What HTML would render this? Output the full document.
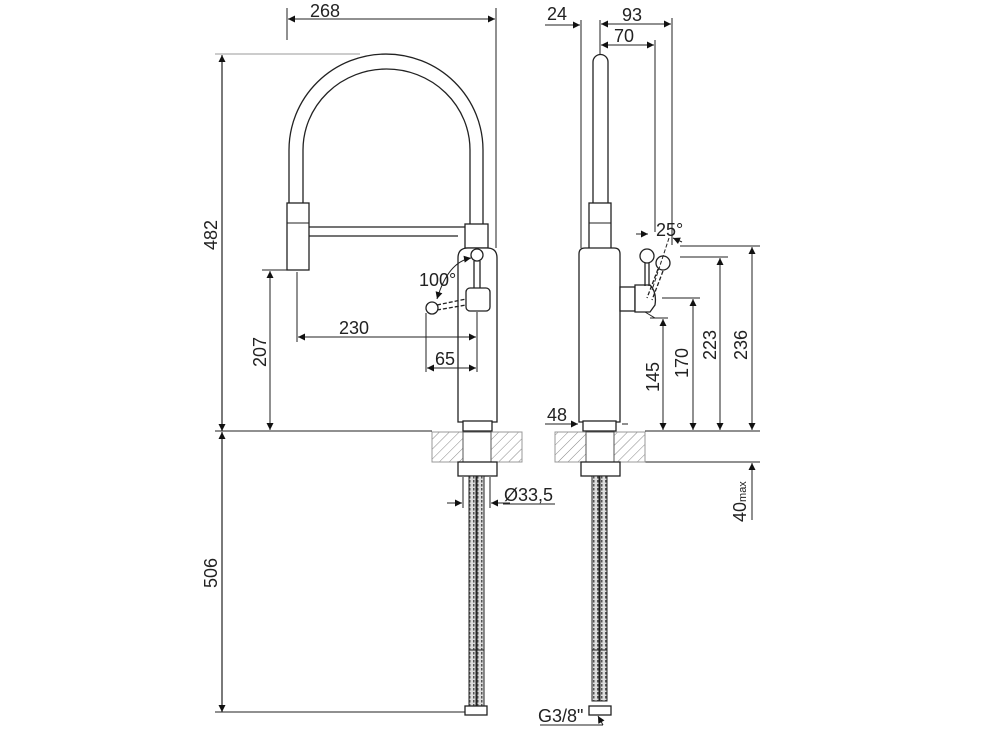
<!DOCTYPE html>
<html><head><meta charset="utf-8"><style>
html,body{margin:0;padding:0;background:#fff}
svg{display:block}
text{font-family:"Liberation Sans",Arial,sans-serif;fill:#222;font-size:18px}
</style></head><body>
<svg width="1000" height="748" viewBox="0 0 1000 748" xmlns="http://www.w3.org/2000/svg">
<defs>
<marker id="a" viewBox="0 0 10 10" refX="10" refY="5" markerWidth="9" markerHeight="7" orient="auto-start-reverse" markerUnits="userSpaceOnUse"><path d="M0,0 L10,5 L0,10 z" fill="#111"/></marker>
<pattern id="h" width="7" height="7" patternUnits="userSpaceOnUse" patternTransform="rotate(45)"><line x1="0" y1="0" x2="0" y2="7" stroke="#888" stroke-width="1"/></pattern>
<pattern id="hose" width="4" height="4" patternUnits="userSpaceOnUse"><rect width="4" height="4" fill="#ddd"/><rect x="1" y="0" width="1.5" height="2.5" fill="#555"/></pattern>
</defs>
<g fill="none" stroke="#222" stroke-width="1.3">
<line x1="287" y1="8" x2="287" y2="40" stroke-width="1"/>
<line x1="496" y1="8" x2="496" y2="248" stroke-width="1"/>
<line x1="288" y1="19" x2="495" y2="19" stroke-width="1" marker-start="url(#a)" marker-end="url(#a)"/>
<line x1="215" y1="54" x2="360" y2="54" stroke="#999" stroke-width="1"/>
<line x1="222" y1="55" x2="222" y2="431" stroke-width="1.2" marker-start="url(#a)" marker-end="url(#a)"/>
<line x1="222" y1="432" x2="222" y2="712" stroke-width="1.2" marker-start="url(#a)" marker-end="url(#a)"/>
<line x1="215" y1="431" x2="432" y2="431" stroke-width="1"/>
<line x1="215" y1="712" x2="470" y2="712" stroke-width="1"/>
<line x1="262" y1="270" x2="290" y2="270" stroke-width="1"/>
<line x1="270" y1="271" x2="270" y2="430" stroke-width="1" marker-start="url(#a)" marker-end="url(#a)"/>
<path d="M289,205 L289,150 A97,96 0 0 1 483,150 L483,226"/>
<path d="M303,205 L303,150 A83.5,81 0 0 1 470,150 L470,226"/>
<rect x="287" y="203" width="22" height="67" fill="#fff"/>
<line x1="287" y1="223" x2="309" y2="223" stroke-width="1"/>
<path d="M309,227 L465,227 M309,236 L458,236"/>
<rect x="465" y="224" width="23" height="24" fill="#fff"/>
<path d="M458,422 L458,258 Q458,248 468,248 L487,248 Q497,248 497,258 L497,422 Z" fill="#fff"/>
<rect x="463" y="421" width="29" height="10" fill="#fff"/>
<circle cx="477" cy="255" r="6" fill="#fff"/>
<line x1="474" y1="261" x2="474" y2="289"/><line x1="480" y1="261" x2="480" y2="289"/>
<rect x="466" y="288" width="24" height="23" rx="4" fill="#fff"/>
<line x1="437" y1="305" x2="466" y2="299" stroke-dasharray="4,2"/>
<line x1="437" y1="310" x2="466" y2="305" stroke-dasharray="4,2"/>
<circle cx="432" cy="308" r="6" fill="#fff"/>
<path d="M437,299 Q448,262 471,258" stroke-width="1" marker-start="url(#a)" marker-end="url(#a)"/>
<line x1="297" y1="272" x2="297" y2="342" stroke-width="1"/>
<line x1="477" y1="312" x2="477" y2="372" stroke-width="1"/>
<line x1="426" y1="313" x2="426" y2="372" stroke-width="1"/>
<line x1="298" y1="337" x2="476" y2="337" stroke-width="1" marker-start="url(#a)" marker-end="url(#a)"/>
<line x1="427" y1="368" x2="476" y2="368" stroke-width="1" marker-start="url(#a)" marker-end="url(#a)"/>
<rect x="432" y="432" width="90" height="30" fill="url(#h)" stroke="#999" stroke-width="1"/>
<rect x="463" y="432" width="28" height="30" fill="#fff" stroke="#555" stroke-width="1"/>
<rect x="458" y="462" width="39" height="14" fill="#fff"/>
<rect x="469" y="476" width="7" height="230" fill="url(#hose)" stroke-width="1"/>
<rect x="477" y="476" width="7" height="230" fill="url(#hose)" stroke-width="1"/>
<line x1="469" y1="650" x2="484" y2="650" stroke-width="1"/>
<rect x="465" y="706" width="22" height="9" fill="#fff"/>
<line x1="463" y1="477" x2="463" y2="508" stroke-width="1"/>
<line x1="490" y1="477" x2="490" y2="508" stroke-width="1"/>
<line x1="447" y1="503" x2="462" y2="503" stroke-width="1" marker-end="url(#a)"/>
<line x1="510" y1="503" x2="491" y2="503" stroke-width="1" marker-end="url(#a)"/>
<line x1="503" y1="504" x2="555" y2="504" stroke-width="1"/>
<line x1="581" y1="20" x2="581" y2="248" stroke-width="1"/>
<line x1="600" y1="20" x2="600" y2="55" stroke-width="1"/>
<line x1="672" y1="18" x2="672" y2="245" stroke-width="1"/>
<line x1="655" y1="40" x2="655" y2="232" stroke-width="1"/>
<line x1="545" y1="25" x2="580" y2="25" stroke-width="1" marker-end="url(#a)"/>
<line x1="601" y1="24" x2="671" y2="24" stroke-width="1" marker-start="url(#a)" marker-end="url(#a)"/>
<line x1="601" y1="45" x2="654" y2="45" stroke-width="1" marker-start="url(#a)" marker-end="url(#a)"/>
<path d="M593,204 L593,62 A7.5,7.5 0 0 1 608,62 L608,204"/>
<rect x="589" y="203" width="22" height="65" fill="#fff"/>
<line x1="589" y1="223" x2="611" y2="223" stroke-width="1"/>
<path d="M579,422 L579,254 Q579,248 585,248 L614,248 Q620,248 620,254 L620,422 Z" fill="#fff"/>
<rect x="583" y="421" width="33" height="10" fill="#fff"/>
<rect x="620" y="287" width="15" height="24" fill="#fff"/>
<path d="M635,285 L650,285 Q657,292 655,305 L650,312 L635,312 Z" fill="#fff"/>
<circle cx="647" cy="256" r="7" fill="#fff"/>
<line x1="645" y1="263" x2="645" y2="286"/><line x1="649" y1="263" x2="649" y2="286"/>
<circle cx="663" cy="263" r="7" fill="#fff"/>
<line x1="658" y1="269" x2="647" y2="298" stroke-dasharray="4,2"/>
<line x1="663" y1="271" x2="652" y2="300" stroke-dasharray="4,2"/>
<line x1="669" y1="238" x2="652" y2="290" stroke-width="1" stroke-dasharray="4,2"/>
<line x1="636" y1="234" x2="648" y2="234" stroke-width="1" marker-end="url(#a)"/>
<path d="M645,312 L655,318 L663,318" stroke-width="1"/>
<line x1="680" y1="246" x2="760" y2="246" stroke-width="1"/>
<line x1="682" y1="242" x2="673" y2="238" stroke-width="1" marker-end="url(#a)"/>
<line x1="680" y1="257" x2="728" y2="257" stroke-width="1"/>
<line x1="662" y1="298" x2="700" y2="298" stroke-width="1"/>
<line x1="650" y1="318" x2="668" y2="318" stroke-width="1"/>
<line x1="752" y1="247" x2="752" y2="430" stroke-width="1" marker-start="url(#a)" marker-end="url(#a)"/>
<line x1="720" y1="258" x2="720" y2="430" stroke-width="1" marker-start="url(#a)" marker-end="url(#a)"/>
<line x1="693" y1="299" x2="693" y2="430" stroke-width="1" marker-start="url(#a)" marker-end="url(#a)"/>
<line x1="663" y1="319" x2="663" y2="430" stroke-width="1" marker-start="url(#a)" marker-end="url(#a)"/>
<line x1="645" y1="431" x2="760" y2="431" stroke-width="1"/>
<line x1="645" y1="462" x2="760" y2="462" stroke-width="1"/>
<line x1="752" y1="520" x2="752" y2="463" stroke-width="1" marker-end="url(#a)"/>
<line x1="545" y1="424" x2="578" y2="424" stroke-width="1" marker-end="url(#a)"/>
<line x1="622" y1="424" x2="628" y2="424" stroke-width="1"/>
<rect x="555" y="432" width="90" height="30" fill="url(#h)" stroke="#999" stroke-width="1"/>
<rect x="586" y="432" width="28" height="30" fill="#fff" stroke="#555" stroke-width="1"/>
<rect x="581" y="462" width="39" height="14" fill="#fff"/>
<rect x="592" y="476" width="7" height="225" fill="url(#hose)" stroke-width="1"/>
<rect x="600" y="476" width="7" height="225" fill="url(#hose)" stroke-width="1"/>
<line x1="592" y1="650" x2="607" y2="650" stroke-width="1"/>
<rect x="589" y="706" width="22" height="9" fill="#fff"/>
<line x1="540" y1="725" x2="603" y2="725" stroke-width="1"/>
<line x1="603" y1="725" x2="598" y2="716" stroke-width="1" marker-end="url(#a)"/>
</g>
<text x="310" y="17">268</text>
<text x="547" y="20">24</text>
<text x="622" y="21">93</text>
<text x="614" y="42">70</text>
<text x="419" y="286">100°</text>
<text x="656" y="236">25°</text>
<text x="339" y="334">230</text>
<text x="435" y="365">65</text>
<text x="547" y="421">48</text>
<text x="504" y="501">Ø33,5</text>
<text x="538" y="722">G3/8"</text>
<text transform="translate(217,250) rotate(-90)">482</text>
<text transform="translate(217,588) rotate(-90)">506</text>
<text transform="translate(266,367) rotate(-90)">207</text>
<text transform="translate(659,392) rotate(-90)">145</text>
<text transform="translate(688,378) rotate(-90)">170</text>
<text transform="translate(716,360) rotate(-90)">223</text>
<text transform="translate(747,360) rotate(-90)">236</text>
<text transform="translate(746,522) rotate(-90)">40<tspan font-size="11">max</tspan></text>
</svg>
</body></html>
